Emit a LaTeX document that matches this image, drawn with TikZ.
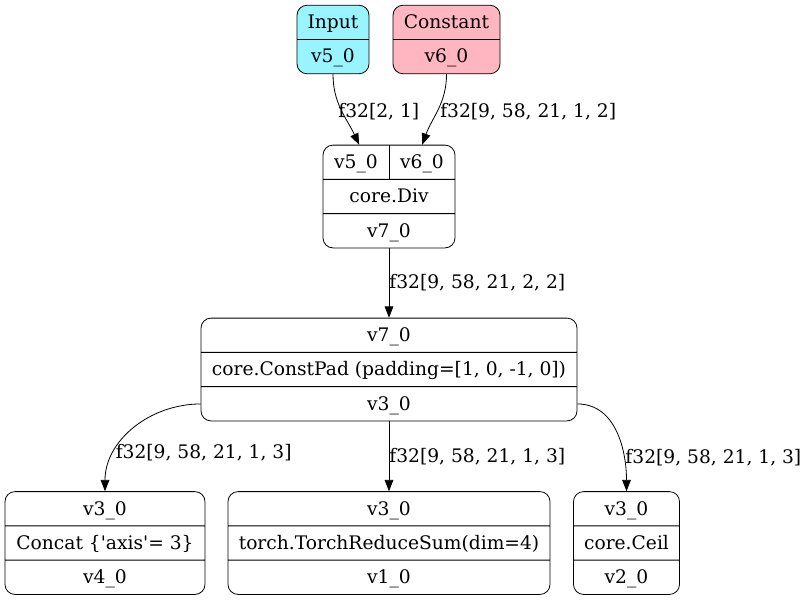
\documentclass[tikz,border=0pt]{standalone}
\usepackage{fontspec}
\setmainfont{DejaVu Serif}
\usetikzlibrary{shapes.multipart,arrows.meta,calc}

\definecolor{inputcol}{HTML}{98F5FF}
\definecolor{constcol}{HTML}{FFB6C1}
% one row of a record box
\newcommand{\rs}{\rule[-7.8pt]{0pt}{25.1pt}}

\begin{document}
\begin{tikzpicture}[x=0.75pt, y=-0.75pt,
    op/.style={draw, line width=0.6pt, rounded corners=7.5pt, rectangle split, rectangle split parts=3,
        inner ysep=0pt, font=\fontsize{14}{16}\selectfont},
    src/.style={op, rectangle split parts=2},
    lbl/.style={anchor=west, inner sep=0pt, font=\fontsize{14}{16}\selectfont},
    edge/.style={line width=0.6pt, -{Triangle[length=8.5pt, width=6.5pt]}}]
    \useasboundingbox (0,0) rectangle (809,601);

    % graph inputs
    \node[src, fill=inputcol, minimum width=54pt] (input) at (333,39.5) {\rs Input \nodepart{two} \rs v5\_0};
    \node[src, fill=constcol, minimum width=80.25pt] (const) at (446.5,39.5) {\rs Constant \nodepart{two} \rs v6\_0};

    % operators
    \node[op, minimum width=99pt, inner xsep=0pt] (div) at (389,196.5)
        {\rs\makebox[49.5pt]{v5\_0}\makebox[49.5pt]{v6\_0} \nodepart{two} \rs core.Div \nodepart{three} \rs v7\_0};
    \draw[line width=0.6pt] (div.north) -- (div.text split);
    \node[op, minimum width=282pt] (pad) at (389,369.5)
        {\rs v7\_0 \nodepart{two} \rs core.ConstPad (padding=[1, 0, -1, 0]) \nodepart{three} \rs v3\_0};
    \node[op, minimum width=150pt] (concat) at (105,543)
        {\rs v3\_0 \nodepart{two} \rs Concat \{\textquotesingle axis\textquotesingle= 3\} \nodepart{three} \rs v4\_0};
    \node[op, minimum width=241.5pt] (rsum) at (389,543)
        {\rs v3\_0 \nodepart{two} \rs torch.TorchReduceSum(dim=4) \nodepart{three} \rs v1\_0};
    \node[op, minimum width=79.5pt] (ceil) at (626.5,543)
        {\rs v3\_0 \nodepart{two} \rs core.Ceil \nodepart{three} \rs v2\_0};

    % edges
    \draw[edge] (input.south) to[out=-90, in=115] node[lbl, pos=0.52, xshift=-3pt] {f32[2, 1]} ($(div.north)!0.45!(div.north west)$);
    \draw[edge] (const.south) to[out=-90, in=70] node[lbl, pos=0.52, xshift=1.75pt] {f32[9, 58, 21, 1, 2]} ($(div.north)!0.5!(div.north east)$);
    \draw[edge] (div.south) -- node[lbl, pos=0.5] {f32[9, 58, 21, 2, 2]} (pad.north);
    \draw[edge] ($(pad.two split west)!0.5!(pad.south west)$) to[out=180, in=90] node[lbl, pos=0.72, xshift=0.5pt] {f32[9, 58, 21, 1, 3]} (concat.north);
    \draw[edge] (pad.south) -- node[lbl, pos=0.5] {f32[9, 58, 21, 1, 3]} (rsum.north);
    \draw[edge] ($(pad.two split east)!0.5!(pad.south east)$) to[out=0, in=90] node[lbl, pos=0.72, xshift=1pt] {f32[9, 58, 21, 1, 3]} (ceil.north);
\end{tikzpicture}
\end{document}
